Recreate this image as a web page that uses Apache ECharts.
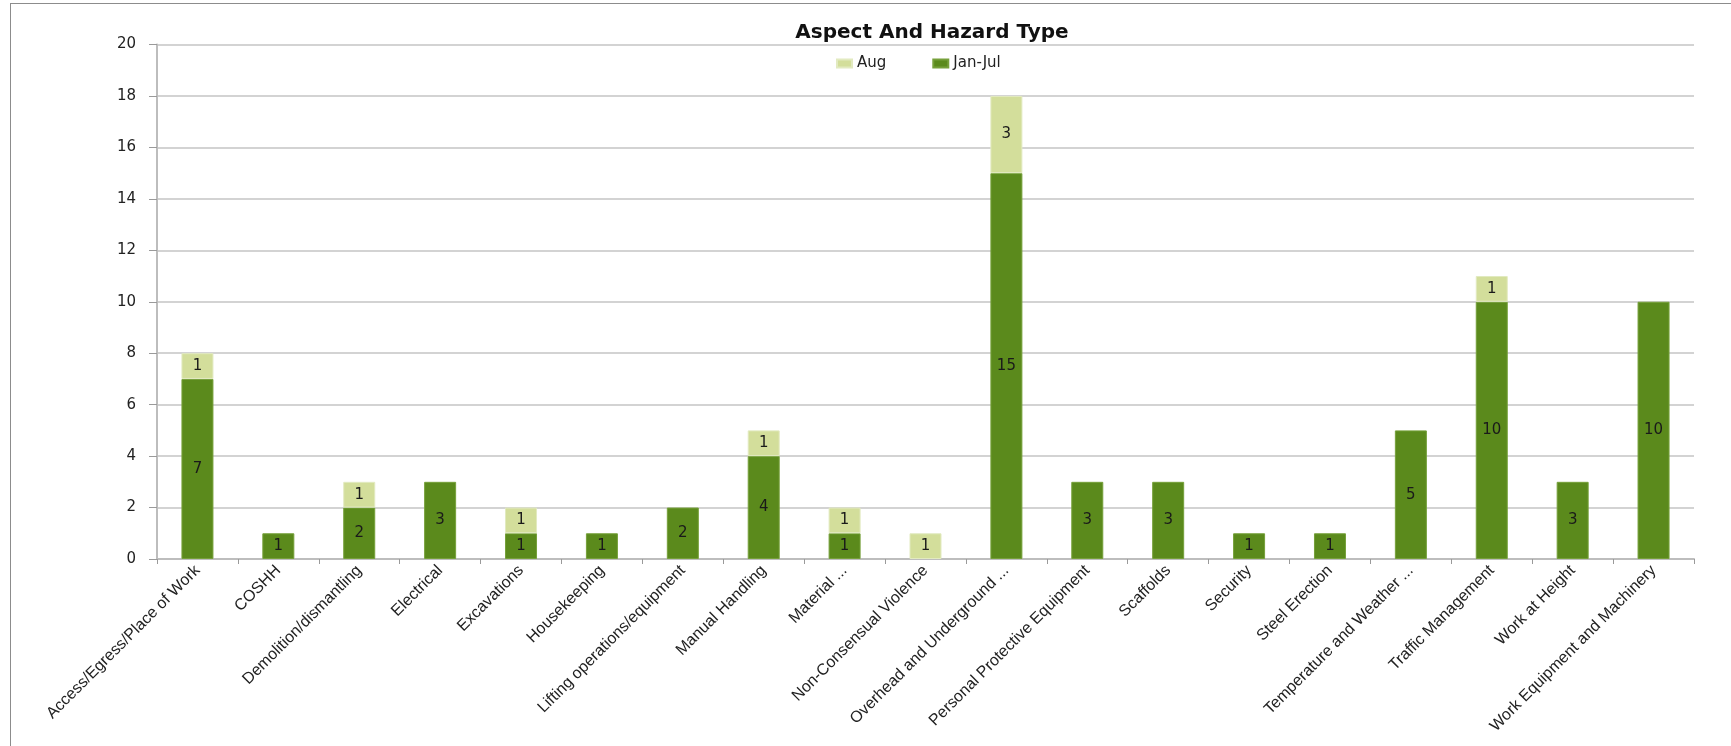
<!DOCTYPE html>
<html>
<head>
<meta charset="utf-8">
<script src="https://cdn.jsdelivr.net/npm/echarts@6/dist/echarts.min.js"></script>
<style>
html,body{margin:0;padding:0;background:#fff;}
#frame{position:absolute;left:10px;top:3px;width:1740px;height:800px;border:1px solid #8c8c8c;box-sizing:border-box;}
#chart{position:absolute;left:0;top:0;width:1731px;height:746px;}
</style>
</head>
<body>
<div id="frame"></div>
<div id="chart"></div>
<script>
const categories = [
  "Access/Egress/Place of Work", "COSHH", "Demolition/dismantling", "Electrical",
  "Excavations", "Housekeeping", "Lifting operations/equipment", "Manual Handling",
  "Material ...", "Non-Consensual Violence", "Overhead and Underground ...",
  "Personal Protective Equipment", "Scaffolds", "Security", "Steel Erection",
  "Temperature and Weather ...", "Traffic Management", "Work at Height",
  "Work Equipment and Machinery"
];
const janJul = [7, 1, 2, 3, 1, 1, 2, 4, 1, null, 15, 3, 3, 1, 1, 5, 10, 3, 10];
const aug    = [1, null, 1, null, 1, null, null, 1, 1, 1, 3, null, null, null, null, null, 1, null, null];
const yTicks = { min: 0, max: 20, interval: 2 };
const chartTitle = "Aspect And Hazard Type";

const chart = echarts.init(document.getElementById('chart'));
const labelStyle = {
  show: true, position: 'inside', color: '#1a1a1a',
  fontFamily: 'DejaVu Sans', fontSize: 15
};
chart.setOption({
  animation: false,
  backgroundColor: 'transparent',
  title: {
    text: chartTitle, left: 927, textAlign: 'center', top: 18,
    textStyle: { fontFamily: 'DejaVu Sans', fontWeight: 'bold', fontSize: 20, color: '#111' }
  },
  legend: {
    data: ['Aug', 'Jan-Jul'], left: 831, top: 51, itemWidth: 15, itemHeight: 8,
    itemGap: 46, icon: 'rect',
    textStyle: { fontFamily: 'DejaVu Sans', fontSize: 15, color: '#222' }
  },
  grid: { left: 157, right: 37, top: 44.5, bottom: 187, containLabel: false },
  xAxis: {
    type: 'category', data: categories,
    axisLine: { lineStyle: { color: '#bdbdbd', width: 2 } },
    axisTick: { show: true, length: 5, lineStyle: { color: '#9a9a9a' } },
    axisLabel: {
      interval: 0, rotate: 45, margin: 9,
      fontFamily: 'Liberation Sans', fontSize: 16, color: '#222'
    }
  },
  yAxis: {
    type: 'value', min: yTicks.min, max: yTicks.max, interval: yTicks.interval,
    axisLine: { show: true, lineStyle: { color: '#bdbdbd', width: 2 } },
    axisTick: { show: true, length: 8, lineStyle: { color: '#9a9a9a' } },
    axisLabel: { margin: 21, fontFamily: 'DejaVu Sans', fontSize: 15, color: '#222' },
    splitLine: { lineStyle: { color: '#c4c4c4', width: 1.5 } }
  },
  series: [
    {
      name: 'Jan-Jul', type: 'bar', stack: 'total', data: janJul, barWidth: 32,
      itemStyle: { color: '#5b8a1c', borderColor: '#76a03a', borderWidth: 1 },
      label: labelStyle
    },
    {
      name: 'Aug', type: 'bar', stack: 'total', data: aug, barWidth: 32,
      itemStyle: { color: '#d3de9b', borderColor: '#e2eac0', borderWidth: 1 },
      label: labelStyle
    }
  ]
});
</script>
</body>
</html>
